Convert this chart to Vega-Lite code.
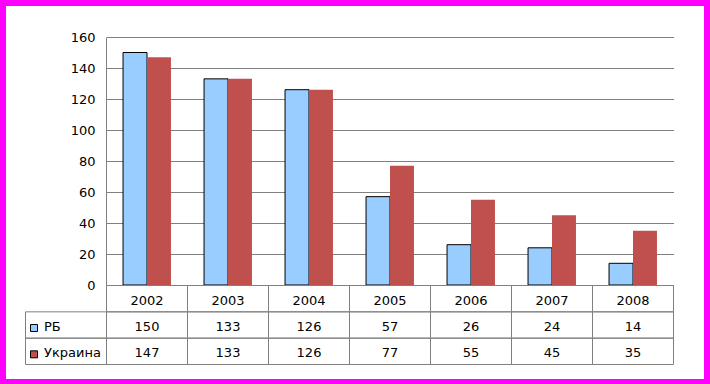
{
  "$schema": "https://vega.github.io/schema/vega-lite/v6.json",
  "width": 698,
  "height": 373,
  "autosize": {"type": "none"},
  "padding": {"left": 6, "top": 6, "right": 6, "bottom": 5},
  "background": "#FF00FF",
  "config": {
    "view": {"fill": "white", "stroke": null},
    "font": "DejaVu Sans",
    "text": {"font": "DejaVu Sans", "fontSize": 13, "color": "black"}
  },
  "datasets": {
    "rows": [
      {"year": "2002", "series": "РБ", "value": 150},
      {"year": "2003", "series": "РБ", "value": 133},
      {"year": "2004", "series": "РБ", "value": 126},
      {"year": "2005", "series": "РБ", "value": 57},
      {"year": "2006", "series": "РБ", "value": 26},
      {"year": "2007", "series": "РБ", "value": 24},
      {"year": "2008", "series": "РБ", "value": 14},
      {"year": "2002", "series": "Украина", "value": 147},
      {"year": "2003", "series": "Украина", "value": 133},
      {"year": "2004", "series": "Украина", "value": 126},
      {"year": "2005", "series": "Украина", "value": 77},
      {"year": "2006", "series": "Украина", "value": 55},
      {"year": "2007", "series": "Украина", "value": 45},
      {"year": "2008", "series": "Украина", "value": 35}
    ]
  },
  "data": {"name": "rows"},
  "layer": [
    {
      "mark": {"type": "bar", "strokeWidth": 1},
      "encoding": {
        "x": {
          "field": "year", "type": "nominal",
          "scale": {"domain": ["2002", "2003", "2004", "2005", "2006", "2007", "2008"], "range": [100.5, 667.5], "paddingInner": 0, "paddingOuter": 0},
          "axis": null
        },
        "xOffset": {
          "field": "series", "type": "nominal",
          "scale": {"domain": ["РБ", "Украина"], "paddingInner": 0, "paddingOuter": 0.69}
        },
        "y": {
          "field": "value", "type": "quantitative",
          "scale": {"domain": [0, 160], "range": [279, 31], "nice": false},
          "axis": {
            "values": [0, 20, 40, 60, 80, 100, 120, 140, 160],
            "offset": -100,
            "grid": true,
            "gridColor": "#808080",
            "gridWidth": 1,
            "domainColor": "#808080",
            "domainWidth": 1,
            "ticks": false,
            "tickSize": 0,
            "labelPadding": 11,
            "labelFont": "DejaVu Sans",
            "labelFontSize": 13,
            "labelColor": "black",
            "title": null
          }
        },
        "fill": {
          "field": "series", "type": "nominal",
          "scale": {"domain": ["РБ", "Украина"], "range": ["#99CCFF", "#C0504D"]},
          "legend": null
        },
        "stroke": {
          "field": "series", "type": "nominal",
          "scale": {"domain": ["РБ", "Украина"], "range": ["#000000", "transparent"]},
          "legend": null
        }
      }
    },
    {
      "layer": [
        {
          "mark": {"type": "rect", "fillOpacity": 0, "stroke": "#808080", "strokeWidth": 1},
          "encoding": {
            "x": {
              "field": "year", "type": "nominal",
              "scale": {"domain": ["hdr", "2002", "2003", "2004", "2005", "2006", "2007", "2008"], "range": [19.5, 667.5], "paddingInner": 0, "paddingOuter": 0},
              "axis": null
            },
            "y": {
              "field": "series", "type": "nominal",
              "scale": {"domain": ["year", "РБ", "Украина"], "range": [279.5, 358.5], "paddingInner": 0, "paddingOuter": 0},
              "axis": null
            }
          }
        },
        {
          "transform": [{"filter": "datum.series === 'РБ'"}],
          "mark": {"type": "rect", "fillOpacity": 0, "stroke": "#808080", "strokeWidth": 1},
          "encoding": {
            "x": {"field": "year", "type": "nominal", "axis": null},
            "y": {"datum": "year", "type": "nominal", "axis": null}
          }
        },
        {
          "transform": [{"filter": "datum.year === '2002'"}],
          "mark": {"type": "rect", "fillOpacity": 0, "stroke": "#808080", "strokeWidth": 1},
          "encoding": {
            "x": {"datum": "hdr", "type": "nominal", "axis": null},
            "y": {"field": "series", "type": "nominal", "axis": null}
          }
        },
        {
          "mark": {"type": "text", "baseline": "middle", "align": "center", "dy": 2},
          "encoding": {
            "x": {"field": "year", "type": "nominal", "axis": null},
            "y": {"field": "series", "type": "nominal", "axis": null},
            "text": {"field": "value", "type": "quantitative"}
          }
        },
        {
          "transform": [{"filter": "datum.series === 'РБ'"}],
          "mark": {"type": "text", "baseline": "middle", "align": "center", "dy": 2},
          "encoding": {
            "x": {"field": "year", "type": "nominal", "axis": null},
            "y": {"datum": "year", "type": "nominal", "axis": null},
            "text": {"field": "year", "type": "nominal"}
          }
        },
        {
          "transform": [{"filter": "datum.year === '2002'"}],
          "mark": {"type": "point", "shape": "square", "filled": true, "size": 49, "stroke": "#000000", "strokeWidth": 1, "opacity": 1, "xOffset": -32, "yOffset": 3},
          "encoding": {
            "x": {"datum": "hdr", "type": "nominal", "axis": null},
            "y": {"field": "series", "type": "nominal", "axis": null},
            "fill": {"field": "series", "type": "nominal", "legend": null}
          }
        },
        {
          "transform": [{"filter": "datum.year === '2002'"}],
          "mark": {"type": "text", "baseline": "middle", "align": "left", "xOffset": -22, "dy": 2},
          "encoding": {
            "x": {"datum": "hdr", "type": "nominal", "axis": null},
            "y": {"field": "series", "type": "nominal", "axis": null},
            "text": {"field": "series", "type": "nominal"}
          }
        }
      ]
    }
  ],
  "resolve": {
    "scale": {"x": "independent", "y": "independent"},
    "axis": {"x": "independent", "y": "independent"}
  }
}
